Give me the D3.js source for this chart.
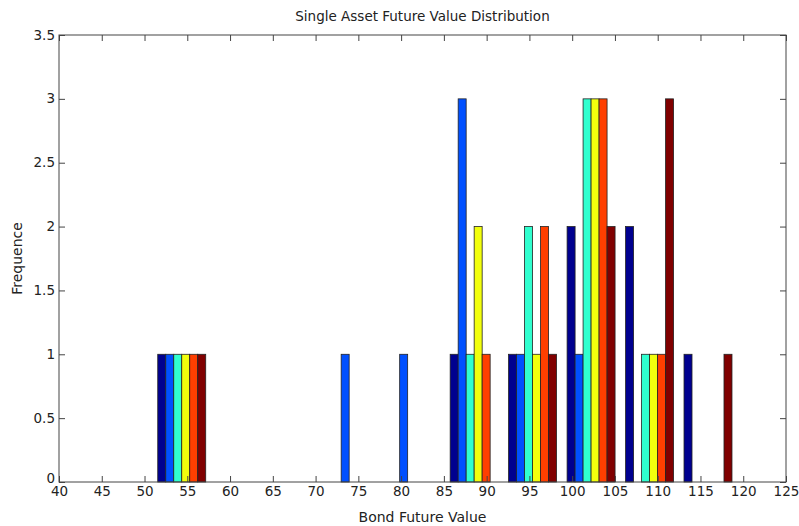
<!DOCTYPE html>
<html>
<head>
<meta charset="utf-8">
<script src="https://d3js.org/d3.v7.min.js"></script>
<style>
body { margin: 0; background: #fff; }
svg text { font-family: "DejaVu Sans", sans-serif; fill: #222; }
</style>
</head>
<body>
<svg id="chart" width="799" height="526"></svg>
<script>
// bin centres of the histogram (Bond Future Value)
var binCenters = [54.35, 61.19, 68.02, 74.86, 81.70, 88.54, 95.37, 102.21, 109.05, 115.88];
// counts per series, one value per bin
var series1 = [1, 0, 0, 0, 0, 1, 1, 2, 2, 1];
var series2 = [1, 0, 0, 1, 1, 3, 1, 1, 0, 0];
var series3 = [1, 0, 0, 0, 0, 1, 2, 3, 1, 0];
var series4 = [1, 0, 0, 0, 0, 2, 1, 3, 1, 0];
var series5 = [1, 0, 0, 0, 0, 1, 2, 3, 1, 0];
var series6 = [1, 0, 0, 0, 0, 0, 1, 2, 3, 1];
var seriesColors = ["#00008f", "#0050ff", "#30ffcf", "#f2ff0d", "#ff3f00", "#800000"];
var xTicks = d3.range(40, 126, 5);
var yTicks = [0, 0.5, 1, 1.5, 2, 2.5, 3, 3.5];

var allSeries = [series1, series2, series3, series4, series5, series6];

var svg = d3.select("#chart");
var pL = 59, pR = 786, pT = 35, pB = 482;

var x = d3.scaleLinear().domain([40, 125]).range([pL, pR]);
var y = d3.scaleLinear().domain([0, 3.5]).range([pB, pT]);

var step = binCenters[1] - binCenters[0];
var groupW = step * 0.82;
var barW = groupW / allSeries.length;

var bars = [];
allSeries.forEach(function (s, i) {
  s.forEach(function (v, j) {
    if (v > 0) bars.push({ s: i, x0: binCenters[j] - groupW / 2 + i * barW, v: v });
  });
});

svg.append("g").selectAll("rect")
  .data(bars)
  .join("rect")
  .attr("x", d => x(d.x0))
  .attr("width", d => x(d.x0 + barW) - x(d.x0))
  .attr("y", d => y(d.v))
  .attr("height", d => y(0) - y(d.v))
  .attr("fill", d => seriesColors[d.s])
  .attr("stroke", "#222")
  .attr("stroke-width", 0.8);

// axes with inward ticks on all four sides
var tickLen = 6;
var axisColor = "#444";
var fmt = d3.format("~g");

var bottomAxis = d3.axisBottom(x).tickValues(xTicks).tickSizeInner(-tickLen).tickSizeOuter(0).tickPadding(4).tickFormat(fmt);
var gx = svg.append("g").attr("transform", "translate(0," + pB + ")").call(bottomAxis);
var topAxis = d3.axisTop(x).tickValues(xTicks).tickSizeInner(-tickLen).tickSizeOuter(0).tickFormat("");
var gxt = svg.append("g").attr("transform", "translate(0," + pT + ")").call(topAxis);
var leftAxis = d3.axisLeft(y).tickValues(yTicks).tickSizeInner(-tickLen).tickSizeOuter(0).tickPadding(4).tickFormat(fmt);
var gy = svg.append("g").attr("transform", "translate(" + pL + ",0)").call(leftAxis);
var rightAxis = d3.axisRight(y).tickValues(yTicks).tickSizeInner(-tickLen).tickSizeOuter(0).tickFormat("");
var gyr = svg.append("g").attr("transform", "translate(" + pR + ",0)").call(rightAxis);

[gx, gxt, gy, gyr].forEach(function (g) {
  g.select(".domain").remove();
  g.selectAll("line").attr("stroke", axisColor);
  g.selectAll("text").style("font-size", "13.5px").attr("fill", "#222");
});
gy.selectAll("text").attr("dy", "0.3em");
gy.selectAll(".tick").filter(d => d === 0).select("text").attr("dy", "0em");

svg.append("rect")
  .attr("x", pL).attr("y", pT)
  .attr("width", pR - pL).attr("height", pB - pT)
  .attr("fill", "none").attr("stroke", axisColor).attr("stroke-width", 1);

svg.append("text")
  .attr("x", (pL + pR) / 2).attr("y", 21)
  .attr("text-anchor", "middle")
  .style("font-size", "13.5px")
  .text("Single Asset Future Value Distribution");

svg.append("text")
  .attr("x", (pL + pR) / 2).attr("y", 522)
  .attr("text-anchor", "middle")
  .style("font-size", "14px")
  .text("Bond Future Value");

svg.append("text")
  .attr("transform", "translate(22," + (pT + pB) / 2 + ") rotate(-90)")
  .attr("text-anchor", "middle")
  .style("font-size", "14px")
  .text("Frequence");
</script>
</body>
</html>
